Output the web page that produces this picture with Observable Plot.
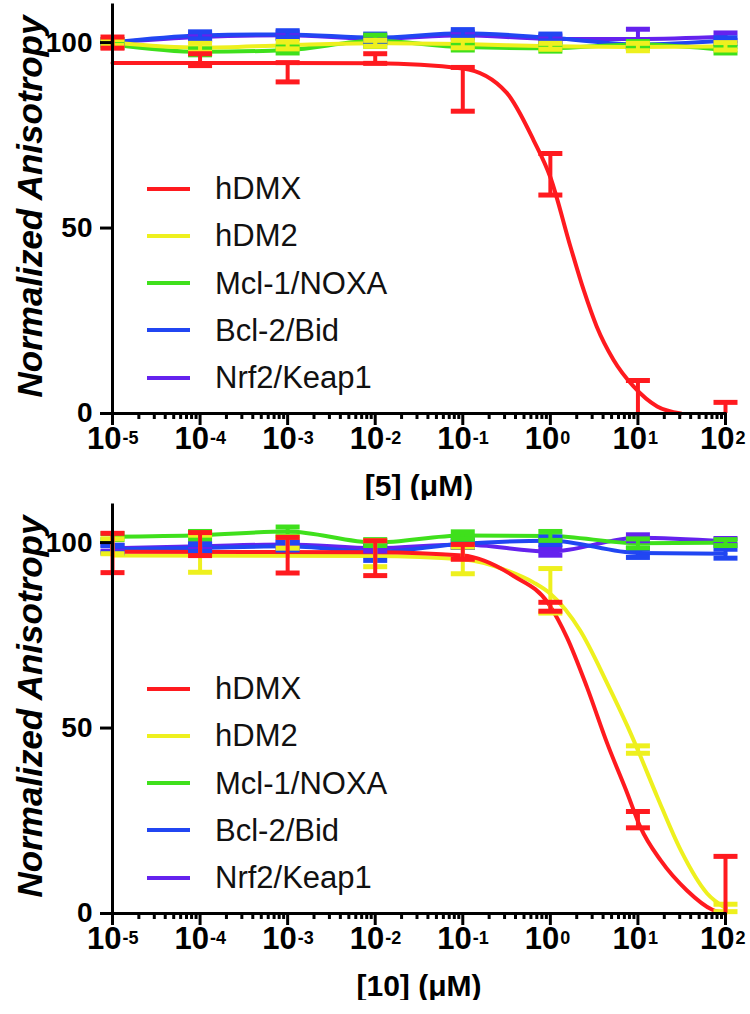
<!DOCTYPE html>
<html><head><meta charset="utf-8">
<script src="https://cdn.jsdelivr.net/npm/d3@7"></script>
<script src="https://cdn.jsdelivr.net/npm/@observablehq/plot@0.6"></script>
<style>
body{margin:0;background:#fff;font-family:"Liberation Sans",Arial,sans-serif;}
.panel{position:relative;width:750px;height:500px;}
.panel svg{display:block;}
.legend{position:absolute;left:147px;top:165px;}
.legend .row{display:flex;align-items:center;height:47.25px;}
.legend .sw{width:43px;height:4px;margin-right:25px;}
.legend .lbl{font-size:31px;color:#111;line-height:1;}
</style></head><body><div id="chart"></div><script>
// ---------- data ----------
const concentrations = [1e-5, 1e-4, 1e-3, 1e-2, 1e-1, 1, 10, 100];
const seriesNames = ["hDMX", "hDM2", "Mcl-1/NOXA", "Bcl-2/Bid", "Nrf2/Keap1"];
const seriesColors = ["#ff1a1f", "#eef01e", "#3fe01c", "#2146f2", "#6422ee"];
const xTickValues = [1e-5, 1e-4, 1e-3, 1e-2, 1e-1, 1, 10, 100];
const xTickBase = ["10", "10", "10", "10", "10", "10", "10", "10"];
const xTickExponents = ["-5", "-4", "-3", "-2", "-1", "0", "1", "2"];
const xMinorTicks = [2,3,4,5,6,7,8,9].flatMap(m => [1e-5,1e-4,1e-3,1e-2,1e-1,1,10].map(d => m * d));
const yTickValues = [0, 50, 100];
const yTickLabels = ["0", "50", "100"];
const yTitle = "Normalized Anisotropy";
const xTitles = ["[5] (μM)", "[10] (μM)"];

// Panel [5]
const c5_hDMX = [100, 95.4, 92, 95.7, 87.4, 64.5, 4.2, 0.5];
const c5_hDMX_sd = [1.5, 1.6, 2.6, 1.3, 5.9, 5.6, 4.7, 2.5];
const c5_hDM2 = [100, 98.6, 99.3, 99.8, 99.6, 99, 98.8, 99];
const c5_hDM2_sd = [0.8, 1.2, 1, 0.8, 1, 0.8, 1, 1];
const c5_Mcl = [99.5, 97.5, 98, 100.5, 98.8, 98.5, 99.5, 98];
const c5_Mcl_sd = [0.8, 0.8, 0.8, 1.5, 0.8, 0.8, 0.8, 0.8];
const c5_Bcl = [100, 101.9, 102.2, 101.3, 102.5, 101.3, 99.5, 100.5];
const c5_Bcl_sd = [0.8, 1, 1, 1, 1, 1, 0.8, 0.8];
const c5_Nrf2 = [100, 101.5, 102, 101, 102, 101, 101, 101.6];
const c5_Nrf2_sd = [0.8, 0.8, 0.8, 0.8, 0.8, 0.8, 2.6, 1];
const fit5_hDMX_x = [1e-5, 1e-3, 1e-2, 0.1, 0.316, 0.646, 1, 1.70, 2.40, 3.39, 5.25, 8.91, 16.6, 30.9];
const fit5_hDMX_y = [94.5, 94.5, 94.4, 93, 86.5, 73.6, 63.7, 44.9, 33.3, 23.4, 14.5, 7.3, 1.9, 0];

// Panel [10]
const c10_hDMX = [97.2, 99.6, 96.6, 95.8, 97.5, 82.7, 25.3, 1];
const c10_hDMX_sd = [5.3, 3.1, 4.8, 4.7, 2, 1.2, 2.2, 14.4];
const c10_hDM2 = [99, 97, 100, 97, 95.2, 87, 44.2, 1.5];
const c10_hDM2_sd = [2, 5, 1.5, 3.5, 3.6, 6, 1, 1];
const c10_Mcl = [101.6, 102, 103, 100, 101.9, 101.8, 99.8, 100];
const c10_Mcl_sd = [0.8, 1, 1.2, 0.8, 1, 1.2, 1.2, 0.8];
const c10_Bcl = [98.2, 98.6, 99, 97.5, 99.7, 100.5, 97.2, 97];
const c10_Bcl_sd = [1, 1, 1, 2.3, 1, 1, 1.2, 1.2];
const c10_Nrf2 = [98.5, 99, 99.5, 98.5, 99.5, 97.6, 101.3, 100.3];
const c10_Nrf2_sd = [0.8, 0.8, 0.8, 0.8, 0.8, 1, 0.8, 0.8];
const fit10_hDMX_x = [1e-5, 1e-2, 0.1, 0.38, 0.955, 1.55, 2.63, 4.47, 7.59, 10.7, 18.2, 36.3, 70.8, 100];
const fit10_hDMX_y = [97.5, 97.4, 96.5, 91, 83.5, 74.4, 60.9, 45.8, 32.3, 23.2, 14.3, 6.2, 1, 0];
const fit10_hDM2_x = [1e-5, 1e-2, 0.1, 0.316, 0.646, 1, 2.19, 4.47, 7.59, 10, 16.6, 30.9, 61.7, 100];
const fit10_hDM2_y = [96.5, 96.4, 95.5, 92.5, 89.2, 86.2, 76.3, 62, 50.5, 44, 31.5, 17, 5.4, 1.5];

// ---------- drawing ----------
const capSymbol = {draw(ctx) {ctx.moveTo(-12, -2.5); ctx.lineTo(12, -2.5); ctx.lineTo(12, 2.5); ctx.lineTo(-12, 2.5); ctx.closePath();}};
const font = "Liberation Sans, Arial, sans-serif";

function panel(cfg) {
  const lineMarks = [], barMarks = [];
  const drawOrder = [4, 3, 2, 1, 0];
  for (const si of drawOrder) {
    const color = seriesColors[si];
    const rows = cfg.means[si].map((m, i) => ({x: concentrations[i], m, sd: cfg.sds[si][i]}));
    const fit = cfg.fits[si];
    if (fit) {
      const pts = fit[0].map((x, i) => ({x, y: fit[1][i]}));
      lineMarks.push(Plot.line(pts, {x: "x", y: "y", stroke: color, strokeWidth: 4, curve: "monotone-x"}));
    } else {
      lineMarks.push(Plot.line(rows, {x: "x", y: "m", stroke: color, strokeWidth: 4, curve: "monotone-x"}));
    }
    barMarks.push(Plot.ruleX(rows, {x: "x", y1: d => Math.max(0, d.m - d.sd), y2: d => d.m + d.sd, stroke: color, strokeWidth: 4}));
    barMarks.push(Plot.dot(rows, {x: "x", y: d => d.m + d.sd, symbol: capSymbol, fill: color, stroke: null}));
    barMarks.push(Plot.dot(rows.filter(d => d.m - d.sd > 0), {x: "x", y: d => d.m - d.sd, symbol: capSymbol, fill: color, stroke: null}));
  }
  const svg = Plot.plot({
    width: 750, height: 500,
    marginLeft: 112, marginRight: 25, marginTop: 5, marginBottom: 87,
    x: {type: "log", domain: [1e-5, 100]},
    y: {domain: [0, 110]},
    style: {fontFamily: font, color: "#000", background: "#fff"},
    marks: [
      ...lineMarks,
      ...barMarks,
      Plot.axisY({ticks: yTickValues, tickSize: 12, strokeWidth: 3, tickFormat: () => "", label: null}),
      Plot.axisX({ticks: xTickValues, tickSize: 12, strokeWidth: 3, tickFormat: () => "", label: null}),
      Plot.axisX({ticks: xMinorTicks, tickSize: 6, strokeWidth: 3, tickFormat: () => "", label: null}),
      Plot.ruleX([1e-5], {stroke: "#000", strokeWidth: 3, strokeLinecap: "square"}),
      Plot.ruleY([0], {stroke: "#000", strokeWidth: 3, strokeLinecap: "square"}),
      Plot.text(yTickValues, {y: d => d, frameAnchor: "left", text: (d, i) => yTickLabels[i], textAnchor: "end", dx: -20, fontSize: 28, fontWeight: "bold", fill: "#000"}),
      Plot.text(xTickValues, {x: d => d, frameAnchor: "bottom", text: (d, i) => xTickBase[i], textAnchor: "end", dx: 9, dy: 35, fontSize: 31, fontWeight: "bold", fill: "#000"}),
      Plot.text(xTickValues, {x: d => d, frameAnchor: "bottom", text: (d, i) => xTickExponents[i], textAnchor: "start", dx: 10, dy: 30, fontSize: 18, fontWeight: "bold", fill: "#000"}),
      Plot.text([cfg.xTitle], {frameAnchor: "bottom", text: d => d, dy: 82, fontSize: 30, fontWeight: "bold", fill: "#000"}),
      Plot.text([yTitle], {frameAnchor: "left", text: d => d, textAnchor: "middle", rotate: -90, dx: -82, dy: -3, fontSize: 35, fontWeight: "bold", fontStyle: "italic", fill: "#000"})
    ]
  });
  const div = document.createElement("div");
  div.className = "panel";
  div.appendChild(svg);
  const legend = document.createElement("div");
  legend.className = "legend";
  seriesNames.forEach((name, i) => {
    const row = document.createElement("div");
    row.className = "row";
    const sw = document.createElement("span");
    sw.className = "sw";
    sw.style.background = seriesColors[i];
    const lbl = document.createElement("span");
    lbl.className = "lbl";
    lbl.textContent = name;
    row.appendChild(sw); row.appendChild(lbl);
    legend.appendChild(row);
  });
  div.appendChild(legend);
  document.getElementById("chart").appendChild(div);
}

panel({
  xTitle: xTitles[0],
  means: [c5_hDMX, c5_hDM2, c5_Mcl, c5_Bcl, c5_Nrf2],
  sds: [c5_hDMX_sd, c5_hDM2_sd, c5_Mcl_sd, c5_Bcl_sd, c5_Nrf2_sd],
  fits: [[fit5_hDMX_x, fit5_hDMX_y], null, null, null, null]
});
panel({
  xTitle: xTitles[1],
  means: [c10_hDMX, c10_hDM2, c10_Mcl, c10_Bcl, c10_Nrf2],
  sds: [c10_hDMX_sd, c10_hDM2_sd, c10_Mcl_sd, c10_Bcl_sd, c10_Nrf2_sd],
  fits: [[fit10_hDMX_x, fit10_hDMX_y], [fit10_hDM2_x, fit10_hDM2_y], null, null, null]
});
</script></body></html>
